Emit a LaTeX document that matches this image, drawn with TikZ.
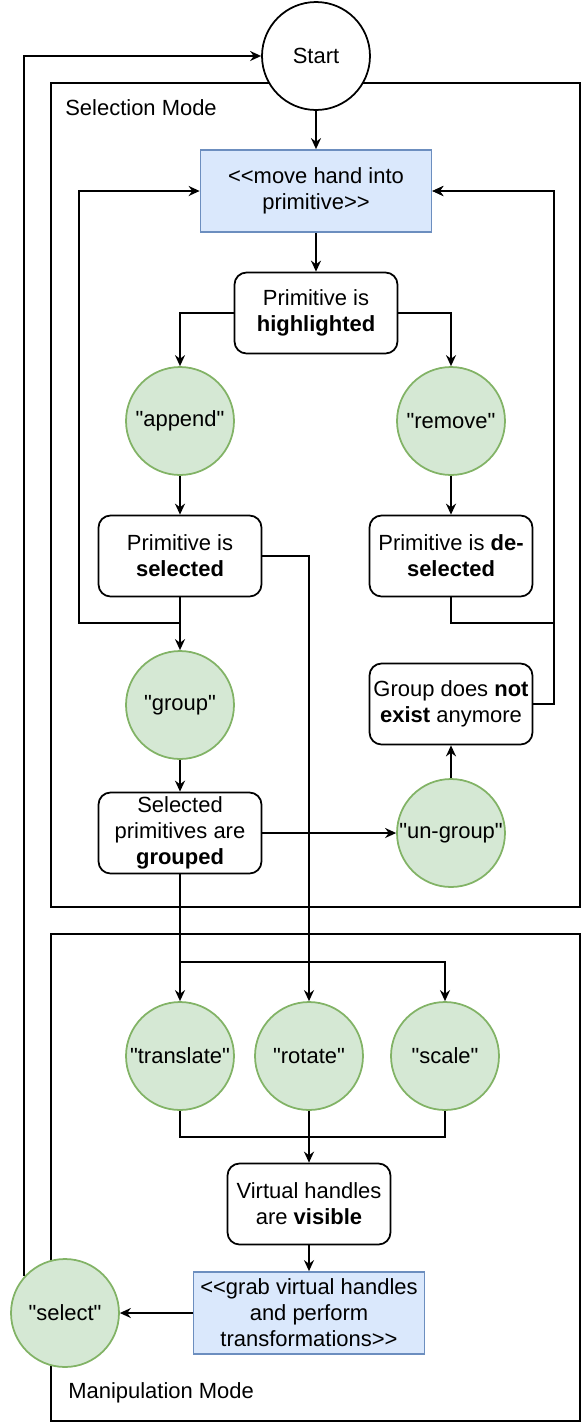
\documentclass[tikz,border=0pt]{standalone}
\usepackage{fontspec}
\newfontfamily\drawfont{Liberation Sans}
\usetikzlibrary{arrows.meta}
\definecolor{actfill}{HTML}{DAE8FC}
\definecolor{actline}{HTML}{6C8EBF}
\definecolor{cmdfill}{HTML}{D5E8D4}
\definecolor{cmdline}{HTML}{82B366}
\tikzset{
	every node/.style={font=\drawfont\fontsize{12.5}{14.8}\selectfont},
	wire/.style={line width=1pt},
	flow/.style={line width=1pt, -{Stealth[length=2.2mm, width=2mm]}},
	modebox/.style={draw, line width=1pt},
	action/.style={draw=actline, fill=actfill, line width=1pt, minimum width=4.62cm, minimum height=1.64cm, inner sep=0pt, align=center},
	state/.style={draw, fill=white, rounded corners=2.4mm, line width=1pt, minimum width=3.26cm, minimum height=1.62cm, inner sep=0pt, align=center},
	cmd/.style={circle, draw=cmdline, fill=cmdfill, line width=1pt, minimum size=2.16cm, inner sep=0pt},
}

\begin{document}
\begin{tikzpicture}[x=0.02cm, y=-0.02cm]
		%%%%% START %%%%%
		\useasboundingbox (0, 0) rectangle (582, 1424);
		
		% the two modes
		\draw[modebox] (51, 83) rectangle (580, 907);
		\draw[modebox] (51, 934) rectangle (580, 1421);
		\node[anchor=west, inner sep=0pt] (selmode) at (65, 108) {Selection Mode};
		\node[anchor=west, inner sep=0pt] (manmode) at (68, 1393) {Manipulation Mode};
		
		\node[circle, draw, fill=white, line width=1pt, minimum size=2.16cm, inner sep=0pt] (start) at (316, 56) {Start};
		
		% selection
		\node[action] (move) at (316, 191) {<{}<move hand into\\primitive>{}>};
		\node[state] (highlighted) at (316, 313) {Primitive is\\\textbf{highlighted}};
		\node[cmd] (append) at (180, 421) {"append"};
		\node[cmd] (remove) at (451, 421) {"remove"};
		\node[state] (selected) at (180, 556) {Primitive is\\\textbf{selected}};
		\node[state] (deselected) at (451, 556) {Primitive is \textbf{de-}\\\textbf{selected}};
		\node[cmd] (group) at (180, 705) {"group"};
		\node[state] (notexist) at (451, 704) {Group does \textbf{not}\\\textbf{exist} anymore};
		\node[state] (grouped) at (180, 833) {Selected\\primitives are\\\textbf{grouped}};
		\node[cmd] (ungroup) at (451, 833) {"un-group"};
		
		% manipulation
		\node[cmd] (translate) at (180, 1056) {"translate"};
		\node[cmd] (rotate) at (309, 1056) {"rotate"};
		\node[cmd] (scale) at (445, 1056) {"scale"};
		\node[state] (visible) at (309, 1204) {Virtual handles\\are \textbf{visible}};
		\node[action] (grab) at (309, 1313) {<{}<grab virtual handles\\and perform\\transformations>{}>};
		\node[cmd] (select) at (65, 1313) {"select"};
		
		\coordinate (lloop) at (79, 623);
		\coordinate (rloop) at (554, 623);
		\coordinate (split) at (180, 962);
		\coordinate (join) at (309, 1137);
		
		\draw[flow] (start) -- (move);
		\draw[flow] (move) -- (highlighted);
		\draw[flow] (highlighted.west) -| (append.north);
		\draw[flow] (highlighted.east) -| (remove.north);
		\draw[flow] (append) -- (selected);
		\draw[flow] (remove) -- (deselected);
		\draw[flow] (selected) -- (group);
		\draw[flow] (selected.south) |- (lloop) |- (move.west);
		\draw[flow] (deselected.south) |- (rloop) |- (move.east);
		\draw[flow] (notexist.east) -| (rloop) |- (move.east);
		\draw[flow] (group) -- (grouped);
		\draw[flow] (grouped) -- (ungroup);
		\draw[flow] (ungroup) -- (notexist);
		
		\draw[flow] (selected.east) -| (rotate.north);
		\draw[flow] (grouped) -- (translate);
		\draw[flow] (grouped.south) |- (split) -| (scale.north);
		\draw[wire] (translate.south) |- (join);
		\draw[wire] (scale.south) |- (join);
		\draw[flow] (rotate) -- (visible);
		\draw[flow] (visible) -- (grab);
		\draw[flow] (grab) -- (select);
		\draw[flow] (select.138) |- (start.west);
		
		%%%%% END %%%%%
\end{tikzpicture}
\end{document}
